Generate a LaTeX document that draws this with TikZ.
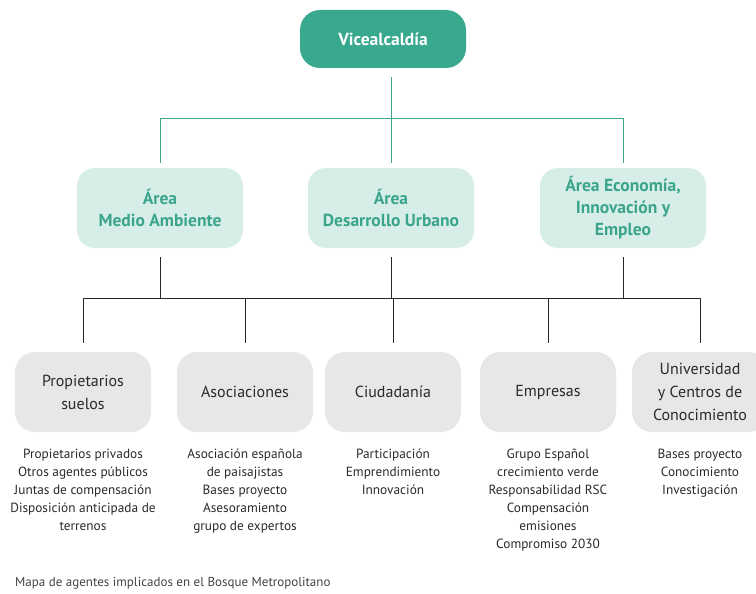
\documentclass[tikz,border=0pt]{standalone}
\usepackage{fontspec}
\setmainfont{PT Sans}
\definecolor{darkteal}{HTML}{38A88F}
\definecolor{mint}{HTML}{D7EDE8}
\definecolor{tealtext}{HTML}{3AA58C}
\definecolor{graybox}{HTML}{E7E7E7}
\definecolor{txt}{HTML}{2A2A2A}
\definecolor{captxt}{HTML}{444444}
\begin{document}
\begin{tikzpicture}[x=1pt,y=-1pt,
  topbox/.style={fill=darkteal, rounded corners=20pt, minimum width=166pt, minimum height=58pt, text=white, font=\fontsize{17.5}{20}\selectfont\bfseries, align=center},
  areabox/.style={fill=mint, rounded corners=18pt, minimum width=166pt, minimum height=80pt, text=tealtext, font=\fontsize{17.5}{22}\selectfont\bfseries, align=center},
  agentbox/.style={fill=graybox, rounded corners=20pt, minimum width=136pt, minimum height=80pt, text=txt, font=\fontsize{16}{23}\selectfont, align=center},
  desc/.style={anchor=north, text=txt, font=\fontsize{13.3}{18}\selectfont, align=center, inner sep=0pt},
  tline/.style={draw=tealtext, line width=0.8pt},
  kline/.style={draw=black!85, line width=0.8pt}]
\useasboundingbox (0,0) rectangle (756,594);
\fill[white] (0,0) rectangle (756,594);
\begin{scope}
\clip (0,0) rectangle (756,594);
\node[topbox] (top) at (383,39) {Vicealcaldía};
\node[areabox] (a1) at (160,208) {Área\\Medio Ambiente};
\node[areabox] (a2) at (391,208) {Área\\Desarrollo Urbano};
\node[areabox] (a3) at (623,208) {Área Economía,\\Innovación y\\Empleo};
\node[agentbox] (g1) at (83,392) {Propietarios\\suelos};
\node[agentbox] (g2) at (245,392) {Asociaciones};
\node[agentbox] (g3) at (393,392) {Ciudadanía};
\node[agentbox] (g4) at (548,392) {Empresas};
\node[agentbox] (g5) at (700,392) {Universidad\\y Centros de\\Conocimiento};
\end{scope}
\node[desc] (d1) at (83,449) {Propietarios privados\\Otros agentes públicos\\Juntas de compensación\\Disposición anticipada de\\terrenos};
\node[desc] (d2) at (245,449) {Asociación española\\de paisajistas\\Bases proyecto\\Asesoramiento\\grupo de expertos};
\node[desc] (d3) at (393,449) {Participación\\Emprendimiento\\Innovación};
\node[desc] (d4) at (548,449) {Grupo Español\\crecimiento verde\\Responsabilidad RSC\\Compensación\\emisiones\\Compromiso 2030};
\node[desc] (d5) at (700,449) {Bases proyecto\\Conocimiento\\Investigación};
\node[anchor=west, text=captxt, font=\fontsize{13}{15}\selectfont, inner sep=0pt] (cap) at (15,583) {Mapa de agentes implicados en el Bosque Metropolitano};
% teal connectors
\coordinate (j0) at (391,118);
\draw[tline, shorten <=9pt] (top.south -| j0) -- (j0);
\draw[tline] (a1.north |- j0) -- (a3.north |- j0);
\foreach \a in {a1,a2,a3}{\draw[tline, shorten >=5pt] (\a.north |- j0) -- (\a.north);}
% black connectors
\coordinate (j1) at (391,298);
\foreach \a in {a1,a2,a3}{\draw[kline, shorten <=9pt] (\a.south) -- (\a.south |- j1);}
\draw[kline] (g1.north |- j1) -- (g5.north |- j1);
\foreach \g in {g1,g2,g3,g4,g5}{\draw[kline, shorten >=9pt] (\g.north |- j1) -- (\g.north);}
\end{tikzpicture}
\end{document}
